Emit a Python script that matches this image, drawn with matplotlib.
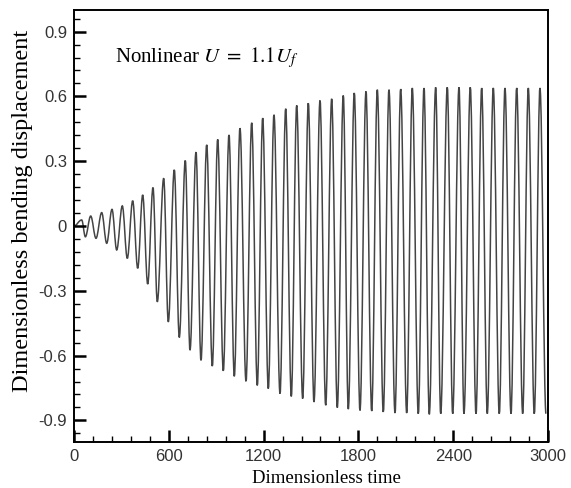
import numpy as np
import matplotlib
matplotlib.use("Agg")
import matplotlib.pyplot as plt
from matplotlib.ticker import MultipleLocator
from matplotlib.path import Path
from matplotlib.patches import PathPatch

plt.rcParams['mathtext.fontset'] = 'stix'

# peaks of the bending displacement (time, value)
peak_t = [48.7, 105.7, 175.3, 240.5, 305.7, 371.5, 434.8, 500.0, 567.7, 634.8,
          704.4, 772.1, 839.9, 909.5, 981.0, 1050.6, 1124.7, 1194.3, 1265.8, 1339.9,
          1409.5, 1482.9, 1557.0, 1631.0, 1704.4, 1774.0, 1848.0, 1919.6, 1993.6, 2067.7,
          2141.1, 2215.2, 2289.2, 2362.6, 2436.7, 2508.2, 2580.3, 2653.8, 2727.8, 2801.9,
          2875.3, 2949.3]
peak_v = [0.028, 0.046, 0.062, 0.077, 0.093, 0.117, 0.144, 0.178, 0.221, 0.260,
          0.303, 0.342, 0.376, 0.401, 0.422, 0.453, 0.478, 0.500, 0.515, 0.543,
          0.558, 0.569, 0.581, 0.589, 0.604, 0.616, 0.623, 0.631, 0.631, 0.634,
          0.639, 0.639, 0.642, 0.642, 0.642, 0.642, 0.639, 0.639, 0.639, 0.639,
          0.639, 0.639]

# troughs
trough_t = [72.0, 139.2, 207.0, 270.3, 337.3, 403.2, 466.5, 527.2, 596.8, 666.4,
            734.2, 803.8, 875.3, 944.9, 1014.5, 1088.6, 1160.1, 1229.7, 1303.8, 1375.3,
            1447.4, 1519.0, 1593.0, 1666.4, 1736.0, 1810.1, 1884.2, 1957.6, 2031.6, 2105.7,
            2179.1, 2248.7, 2320.9, 2396.8, 2468.3, 2544.3, 2615.8, 2691.7, 2765.8, 2839.8,
            2913.3, 2987.3]
trough_v = [-0.050, -0.057, -0.080, -0.111, -0.150, -0.196, -0.269, -0.351, -0.444, -0.516,
            -0.575, -0.622, -0.649, -0.671, -0.696, -0.719, -0.738, -0.753, -0.776, -0.789,
            -0.799, -0.815, -0.830, -0.841, -0.848, -0.854, -0.857, -0.861, -0.866, -0.866,
            -0.869, -0.872, -0.869, -0.869, -0.869, -0.869, -0.869, -0.869, -0.869, -0.869,
            -0.869, -0.869]

x_ticks = [0, 600, 1200, 1800, 2400, 3000]
y_ticks = [-0.9, -0.6, -0.3, 0, 0.3, 0.6, 0.9]
y_ticklabels = ['-0.9', '-0.6', '-0.3', '0', '0.3', '0.6', '0.9']

# join extremes in time order, starting from rest
t = np.concatenate([[0.0], peak_t, trough_t])
v = np.concatenate([[0.0], peak_v, trough_v])
order = np.argsort(t)
t = t[order]
v = v[order]

# smooth half-wave between neighbouring extremes (cubic bezier, flat at the extremes)
k = 0.364
verts = [(t[0], v[0])]
codes = [Path.MOVETO]
for i in range(len(t) - 1):
    dt = t[i + 1] - t[i]
    verts += [(t[i] + k * dt, v[i]), (t[i + 1] - k * dt, v[i + 1]), (t[i + 1], v[i + 1])]
    codes += [Path.CURVE4] * 3

fig = plt.figure(figsize=(5.71, 4.88), dpi=100)
ax = fig.add_axes([0.1296, 0.0943, 0.9597 - 0.1296, 0.9795 - 0.0943])

ax.add_patch(PathPatch(Path(verts, codes), facecolor='none', edgecolor='#444444', lw=1.1))

ax.set_xlim(0, 3000)
ax.set_ylim(-1, 1)
ax.set_xticks(x_ticks)
ax.set_yticks(y_ticks)
ax.set_yticklabels(y_ticklabels)
ax.xaxis.set_minor_locator(MultipleLocator(120))
ax.yaxis.set_minor_locator(MultipleLocator(0.06))

ax.tick_params(which='both', direction='in', top=False, right=False,
               labelsize=12, labelcolor='#333333')
ax.tick_params(which='major', length=8.5, width=1.8, pad=5)
ax.tick_params(which='minor', length=4, width=1.0)
for lab in ax.get_xticklabels() + ax.get_yticklabels():
    lab.set_family('Liberation Sans')
for s in ax.spines.values():
    s.set_linewidth(1.4)

ax.set_xlabel('Dimensionless time', family='Liberation Serif', fontsize=13.5)
ax.xaxis.set_label_coords(0.532, -0.064)
ax.set_ylabel('Dimensionless bending displacement', family='Liberation Serif',
              fontsize=17.5)
ax.yaxis.set_label_coords(-0.087, 0.535)

ax.text(259, 0.78, r'Nonlinear $U\ =\ 1.1U_f$', family='Liberation Serif',
        fontsize=15, va='center', ha='left')

fig.savefig('out.png', dpi=100)
